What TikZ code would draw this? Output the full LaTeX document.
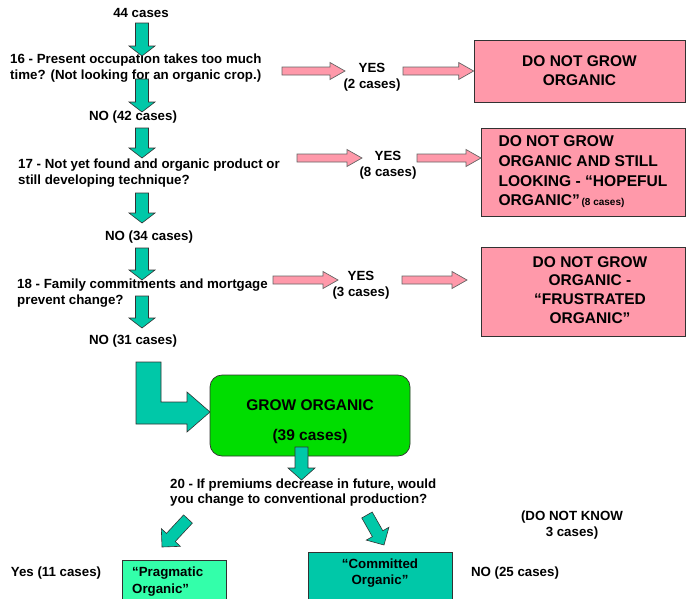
\documentclass[tikz,border=0pt]{standalone}
\usepackage{fontspec}
\setmainfont{Liberation Sans}
\usetikzlibrary{calc}
\definecolor{tealc}{RGB}{0,200,168}
\definecolor{pinkc}{RGB}{255,153,170}
\definecolor{greenc}{RGB}{0,221,0}
\definecolor{springc}{RGB}{51,255,170}
\definecolor{edgec}{RGB}{50,50,50}
\newcommand{\blockarrow}[6]{%
  \coordinate (hb) at ($(#3)!#6!(#2)$);
  \filldraw[#1] ($(#2)!#4!90:(#3)$) -- ($(hb)!#4!90:(#3)$) -- ($(hb)!#5!90:(#3)$) -- (#3)
    -- ($(hb)!#5!-90:(#3)$) -- ($(hb)!#4!-90:(#3)$) -- ($(#2)!#4!-90:(#3)$) -- cycle;}
\tikzset{
  txt/.style={font=\bfseries\fontsize{13.3}{16}\selectfont, inner sep=0pt},
  qtxt/.style={txt, align=left, anchor=west},
  ctxt/.style={txt, align=center},
  bigtxt/.style={font=\bfseries\fontsize{15.5}{19}\selectfont, inner sep=0pt},
  tealarrow/.style={fill=tealc, draw=edgec, line width=0.6pt, line join=miter},
  pinkarrow/.style={fill=pinkc, draw=edgec!75, line width=0.7pt},
  pinkbox/.style={rectangle, fill=pinkc, draw=edgec, line width=0.7pt, inner sep=0pt, bigtxt},
}
\begin{document}
\begin{tikzpicture}[x=1pt,y=-1pt]
\useasboundingbox (0,0) rectangle (686,598);
\clip (0,0) rectangle (686,598);
% left column texts
\node[ctxt] (n44) at (141,13) {44 cases};
\node[qtxt] (q16) at (10,68) {16 - Present occupation takes too much\\time? (Not looking for an organic crop.)};
\node[ctxt] (no42) at (133,117) {NO (42 cases)};
\node[qtxt] (q17) at (18,173) {17 - Not yet found and organic product or\\still developing technique?};
\node[ctxt] (no34) at (149,237) {NO (34 cases)};
\node[qtxt] (q18) at (17,293) {18 - Family commitments and mortgage\\prevent change?};
\node[ctxt] (no31) at (133,341) {NO (31 cases)};
% vertical teal arrows
\coordinate (v1s) at (142,23);  \coordinate (v1e) at (142,56);
\coordinate (v2s) at (142,79);  \coordinate (v2e) at (142,112);
\coordinate (v3s) at (142,128); \coordinate (v3e) at (142,158);
\coordinate (v4s) at (142,193); \coordinate (v4e) at (142,223);
\coordinate (v5s) at (142,248); \coordinate (v5e) at (142,280);
\coordinate (v6s) at (142,296); \coordinate (v6e) at (142,328);
\foreach \i in {1,...,6}{\blockarrow{tealarrow}{v\i s}{v\i e}{6.5pt}{13pt}{10pt}}
% yes labels
\node[ctxt] (yes1) at (372,77) {YES\\(2 cases)};
\node[ctxt] (yes2) at (388,165.5) {YES\\(8 cases)};
\node[ctxt] (yes3) at (361,285) {YES\\(3 cases)};
% pink boxes
\node[pinkbox, minimum width=211pt, minimum height=62pt, align=center] (box1) at (579.5,71) {DO NOT GROW\\ORGANIC};
\node[pinkbox, minimum width=204pt, minimum height=88pt, align=left, font=\bfseries\fontsize{15.6}{19.7}\selectfont] (box2) at (583,172) {DO NOT GROW\\ORGANIC AND STILL\\LOOKING - “HOPEFUL\\ORGANIC”{\fontsize{10}{12}\selectfont\,(8 cases)}};
\node[pinkbox, minimum width=204pt, minimum height=89pt] (box3) at (583,291.5) {};
\node[bigtxt, align=center, font=\bfseries\fontsize{15.5}{18.7}\selectfont] (box3t) at (590,290) {DO NOT GROW\\ORGANIC -\\“FRUSTRATED\\ORGANIC”};
% pink arrows
\coordinate (p1s) at (282,71);  \coordinate (p1e) at (345,71);
\coordinate (p2s) at (403,71);  \coordinate (p2e) at (box1.west);
\coordinate (p3s) at (297,158); \coordinate (p3e) at (362,158);
\coordinate (p4s) at (417,158); \coordinate (p4e) at (481,158);
\coordinate (p5s) at (273,280); \coordinate (p5e) at (338,280);
\coordinate (p6s) at (402,280); \coordinate (p6e) at (467,280);
\foreach \i in {1,...,6}{\blockarrow{pinkarrow}{p\i s}{p\i e}{4pt}{8.5pt}{15pt}}
% L-shaped arrow to grow box
\filldraw[tealarrow] (136,362) -- (161,362) -- (161,402) -- (187,402) -- (187,392) -- (210,412)
  -- (187,432) -- (187,424) -- (136,424) -- cycle;
% grow box
\node[rectangle, rounded corners=12pt, fill=greenc, draw=edgec, line width=0.7pt, minimum width=200pt, minimum height=81pt] (grow) at (310,415.5) {};
\node[bigtxt, align=center] (growt) at (310,422) {GROW ORGANIC\\[11pt](39 cases)};
\coordinate (g1s) at (301.5,447); \coordinate (g1e) at (301.5,480);
\blockarrow{tealarrow}{g1s}{g1e}{6.5pt}{13.5pt}{12pt}
\node[qtxt, font=\bfseries\fontsize{13.3}{15}\selectfont] (q20) at (170,492.5) {20 - If premiums decrease in future, would\\you change to conventional production?};
% diagonal arrows
\coordinate (d1s) at (188,519); \coordinate (d1e) at (162,547);
\coordinate (d2s) at (367,515); \coordinate (d2e) at (384,545);
\blockarrow{tealarrow}{d1s}{d1e}{6pt}{13pt}{13pt}
\blockarrow{tealarrow}{d2s}{d2e}{6pt}{13pt}{13pt}
% bottom
\node[ctxt] (dnk) at (572,525) {(DO NOT KNOW\\3 cases)};
\node[ctxt] (yes11) at (56,573) {Yes (11 cases)};
\node[ctxt] (no25) at (515,573) {NO (25 cases)};
\node[rectangle, fill=springc, draw=edgec, line width=0.7pt, minimum width=104pt, minimum height=45pt] (prag) at (174,582.5) {};
\node[qtxt, font=\bfseries\fontsize{13.3}{17}\selectfont] (pragt) at (132,581.5) {“Pragmatic\\Organic”};
\node[rectangle, fill=tealc, draw=edgec, line width=0.7pt, minimum width=144pt, minimum height=53pt] (comm) at (380,578.5) {};
\node[ctxt] (commt) at (380,573) {“Committed\\Organic”};
\end{tikzpicture}
\end{document}
